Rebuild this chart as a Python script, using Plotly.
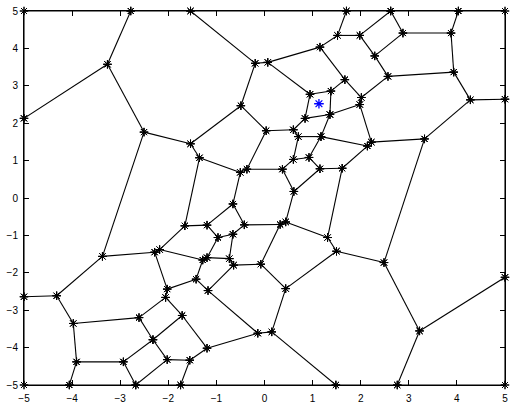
import plotly.graph_objects as go

# Voronoi vertices (data coordinates), id -> position
vid = ["c1","c2","c3","c4",
       "v1","v2","v3","v4","v5","v6","v7","v8","v9","v10",
       "v11","v12","v13","v14","v15","v16","v17","v18","v19","v20",
       "v21","v22","v23","v24","v25","v26","v27","v28","v29","v30",
       "v31","v32","v33","v34","v35","v36","v37","v38","v39","v40",
       "v41","v42","v43","v44","v45","v46","v47","v48","v49","v50",
       "v51","v52","v53","v54","v55","v56","v57","v58","v59","v60",
       "v61","v62","v63","v64","v65","v66","v67","v68","v69","v70",
       "v71","v72","v73","v74","v75","v76","v77","v78","v79","v80",
       "v81","v82","v83","v84","v85","v86","v87","v88","v89"]
vx = [-5, 5, -5, 5,
      -2.78, -3.265, -5, -2.505, -1.538, -3.369, -2.284, -2.180, -4.321, -5,
      -3.975, -2.609, -3.907, -4.058, -2.934, -2.677, -2.319, -2.023, -1.553, -1.745,
      -1.195, -1.712, -2.056, -2.023, -1.422, -1.174, -0.139, 0.151, 0.441, 1.484,
      -1.656, -1.195, -0.656, -0.420, -0.967, -0.656, 0.325, 0.441, 0.611, -1.284,
      -1.195, -0.731, -0.642, -0.077, 1.311, 1.497, 2.484, 5, 3.224, 2.76,
      -1.538, -0.193, 0.068, 1.153, 1.518, 1.704, 1.671, 1.381, 0.946, -0.491,
      1.981, 2.623, 4.031, 2.878, 3.878, 2.292, 2.567, 3.934, 2.014, 1.981,
      4.280, 5, 2.222, 2.139, 3.327, 1.615, -1.352, 0.035, 0.600, 0.843,
      1.360, 0.704, 1.174, 0.600, 0.925, 1.153, -0.503, -0.366, 0.373]
vy = [5, 5, -5, -5,
      5, 3.575, 2.13, 1.762, 1.449, -1.561, -1.449, -1.379, -2.614, -2.64,
      -3.355, -3.198, -4.381, -5, -4.381, -5, -3.789, -4.321, -4.337, -5,
      -4.016, -3.141, -2.658, -2.436, -2.170, -2.475, -3.616, -3.580, -2.423, -5,
      -0.744, -0.726, -0.159, -0.718, -1.057, -0.969, -0.708, -0.640, 0.175, -1.658,
      -1.595, -1.621, -1.796, -1.770, -1.057, -1.423, -1.726, -2.12, -3.554, -5,
      5, 3.601, 3.627, 4.034, 4.347, 5, 3.164, 2.859, 2.773, 2.467,
      4.347, 5, 5, 4.41, 4.41, 3.799, 3.251, 3.366, 2.687, 2.499,
      2.624, 2.642, 1.493, 1.389, 1.580, 0.796, 1.076, 1.799, 1.825, 2.128,
      2.232, 1.642, 1.642, 1.031, 1.084, 0.781, 0.684, 0.770, 0.770]

# Cell edges as pairs of vertex ids
edges = [
    ("v1","v2"),("v2","v3"),("v2","v4"),("v4","v5"),("v4","v6"),("v6","v7"),("v7","v8"),
    ("v6","v9"),("v9","v10"),("v9","v11"),("v11","v12"),("v11","v13"),("v13","v14"),
    ("v13","v15"),("v15","v16"),("v15","v17"),("v12","v17"),("v17","v18"),("v18","v19"),
    ("v16","v18"),
    ("v17","v22"),("v12","v23"),("v23","v22"),("v23","v24"),("v24","v7"),("v24","v25"),
    ("v25","v40"),("v25","v26"),("v19","v20"),("v19","v21"),("v21","v22"),("v21","v27"),
    ("v27","v28"),("v27","v26"),("v28","v29"),("v28","v30"),("v8","v31"),("v8","v40"),
    ("v31","v77"),("v31","v32"),("v32","v33"),("v32","v35"),("v33","v87"),("v33","v34"),
    ("v34","v36"),("v34","v37"),("v35","v36"),("v35","v41"),("v36","v42"),("v40","v41"),
    ("v41","v42"),("v42","v43"),("v43","v44"),("v43","v26"),("v44","v37"),("v44","v29"),
    ("v37","v38"),("v38","v39"),("v38","v45"),("v45","v46"),("v46","v47"),("v46","v29"),
    ("v47","v75"),("v47","v49"),("v49","v48"),("v49","v50"),("v51","v52"),("v52","v53"),
    ("v52","v60"),("v53","v54"),("v53","v59"),("v54","v55"),("v54","v57"),("v55","v56"),
    ("v55","v61"),("v57","v58"),("v57","v69"),("v58","v59"),("v58","v81"),("v59","v80"),
    ("v61","v62"),("v61","v66"),("v62","v64"),("v64","v65"),("v64","v66"),("v65","v63"),
    ("v65","v68"),("v66","v67"),("v67","v68"),("v67","v69"),("v68","v71"),("v71","v72"),
    ("v69","v70"),("v70","v81"),("v70","v73"),("v73","v74"),("v73","v75"),("v75","v71"),
    ("v74","v83"),("v74","v76"),("v76","v86"),("v76","v45"),("v60","v5"),("v60","v78"),
    ("v78","v79"),("v78","v88"),("v79","v80"),("v79","v82"),("v80","v81"),("v81","v83"),
    ("v82","v83"),("v82","v84"),("v84","v85"),("v84","v89"),("v85","v83"),("v85","v86"),
    ("v86","v39"),("v89","v39"),("v87","v88"),("v87","v77"),("v88","v89"),("v77","v5"),
    # bounding box pieces
    ("c1","v1"),("v1","v51"),("v51","v56"),("v56","v62"),("v62","v63"),("v63","c2"),
    ("c2","v72"),("v72","v48"),("v48","c4"),
    ("c3","v14"),("v14","v16"),("v16","v20"),("v20","v30"),("v30","v50"),("v50","c4"),
    ("c1","v3"),("v3","v10"),("v10","c3"),
]

# highlighted site
site_x = [1.132]
site_y = [2.52]

pos = {k: (x, y) for k, x, y in zip(vid, vx, vy)}
xs, ys = [], []
for a, b in edges:
    xs += [pos[a][0], pos[b][0], None]
    ys += [pos[a][1], pos[b][1], None]

fig = go.Figure()
fig.add_trace(go.Scatter(
    x=xs, y=ys, mode="lines+markers",
    line=dict(color="black", width=1.1),
    marker=dict(symbol="asterisk-open", size=7, color="black",
                line=dict(color="black", width=1)),
    hoverinfo="skip", showlegend=False, cliponaxis=False))
fig.add_trace(go.Scatter(
    x=site_x, y=site_y, mode="markers",
    marker=dict(symbol="asterisk-open", size=8, color="blue",
                line=dict(color="blue", width=1.3)),
    showlegend=False))

axis_common = dict(
    range=[-5, 5], tickmode="array", tickvals=list(range(-5, 6)),
    ticks="inside", ticklen=5, tickwidth=1, tickcolor="black",
    showline=True, linecolor="black", linewidth=1, mirror="ticks",
    showgrid=False, zeroline=False,
    tickfont=dict(family="Liberation Sans, Arial, sans-serif", size=10, color="black"),
)
fig.update_xaxes(**axis_common, ticklabelstandoff=4)
fig.update_yaxes(**axis_common, ticklabelstandoff=3)
fig.update_layout(
    width=511, height=407,
    margin=dict(l=24, r=3, t=11, b=13),
    plot_bgcolor="white", paper_bgcolor="white",
)
fig.write_html("out.html")
